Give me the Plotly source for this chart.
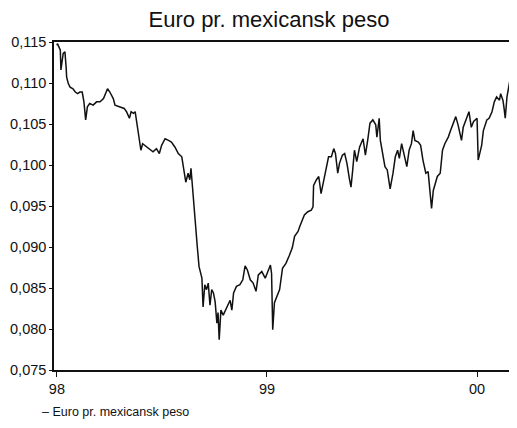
import plotly.graph_objects as go

# Dates and exchange rate values
dates = [
    "1998-01-01", "1998-01-02", "1998-01-07", "1998-01-08", "1998-01-12", "1998-01-15",
    "1998-01-17", "1998-01-18", "1998-01-21", "1998-01-24", "1998-01-29", "1998-02-02",
    "1998-02-06", "1998-02-10", "1998-02-14", "1998-02-17", "1998-02-20", "1998-02-23",
    "1998-02-27", "1998-03-05", "1998-03-11", "1998-03-17", "1998-03-23", "1998-03-27",
    "1998-03-30", "1998-04-03", "1998-04-09", "1998-04-12", "1998-04-21", "1998-04-28",
    "1998-05-02", "1998-05-07", "1998-05-10", "1998-05-14", "1998-05-17", "1998-05-20",
    "1998-05-24", "1998-05-27", "1998-05-30", "1998-06-06", "1998-06-12", "1998-06-17",
    "1998-06-23", "1998-06-28", "1998-07-02", "1998-07-08", "1998-07-14", "1998-07-19",
    "1998-07-25", "1998-07-31", "1998-08-06", "1998-08-10", "1998-08-13", "1998-08-17",
    "1998-08-20", "1998-08-22", "1998-08-24", "1998-08-25", "1998-08-29", "1998-09-02",
    "1998-09-05", "1998-09-08", "1998-09-10", "1998-09-12", "1998-09-15", "1998-09-18",
    "1998-09-21", "1998-09-24", "1998-09-27", "1998-09-30", "1998-10-03", "1998-10-06",
    "1998-10-08", "1998-10-10", "1998-10-13", "1998-10-17", "1998-10-23", "1998-10-29",
    "1998-11-01", "1998-11-04", "1998-11-09", "1998-11-15", "1998-11-20", "1998-11-24",
    "1998-11-28", "1998-12-03", "1998-12-08", "1998-12-13", "1998-12-17", "1998-12-23",
    "1998-12-29", "1999-01-03", "1999-01-07", "1999-01-09", "1999-01-11", "1999-01-14",
    "1999-01-18", "1999-01-23", "1999-01-28", "1999-02-03", "1999-02-09", "1999-02-14",
    "1999-02-18", "1999-02-24", "1999-02-27", "1999-03-03", "1999-03-07", "1999-03-13",
    "1999-03-19", "1999-03-22", "1999-03-23", "1999-03-28", "1999-04-01", "1999-04-05",
    "1999-04-09", "1999-04-14", "1999-04-18", "1999-04-23", "1999-04-27", "1999-04-30",
    "1999-05-04", "1999-05-07", "1999-05-12", "1999-05-16", "1999-05-20", "1999-05-24",
    "1999-05-27", "1999-05-30", "1999-06-02", "1999-06-06", "1999-06-11", "1999-06-17",
    "1999-06-21", "1999-06-25", "1999-06-29", "1999-07-04", "1999-07-09", "1999-07-11",
    "1999-07-15", "1999-07-17", "1999-07-21", "1999-07-25", "1999-07-29", "1999-08-03",
    "1999-08-08", "1999-08-12", "1999-08-16", "1999-08-19", "1999-08-23", "1999-08-27",
    "1999-09-01", "1999-09-05", "1999-09-09", "1999-09-12", "1999-09-15", "1999-09-21",
    "1999-09-25", "1999-09-29", "1999-10-04", "1999-10-08", "1999-10-11", "1999-10-14",
    "1999-10-17", "1999-10-20", "1999-10-24", "1999-10-29", "1999-11-02", "1999-11-06",
    "1999-11-12", "1999-11-16", "1999-11-21", "1999-11-25", "1999-11-29", "1999-12-05",
    "1999-12-08", "1999-12-14", "1999-12-18", "1999-12-22", "1999-12-26", "2000-01-01",
    "2000-01-03", "2000-01-09", "2000-01-12", "2000-01-18", "2000-01-22", "2000-01-27",
    "2000-01-31", "2000-02-04", "2000-02-09", "2000-02-11", "2000-02-15", "2000-02-17",
    "2000-02-19", "2000-02-22", "2000-02-25", "2000-02-27",
]
euro_per_peso = [
    0.1146, 0.1148, 0.1140, 0.1116, 0.1136, 0.1138,
    0.1120, 0.1107, 0.1099, 0.1095, 0.1093, 0.1089,
    0.1087, 0.1089, 0.1089, 0.1077, 0.1055, 0.1071,
    0.1075, 0.1073, 0.1077, 0.1077, 0.1081, 0.1089,
    0.1093, 0.1089, 0.1081, 0.1073, 0.1071, 0.1069,
    0.1065, 0.1057, 0.1065, 0.1063, 0.1065, 0.1049,
    0.1034, 0.1018, 0.1026, 0.1022, 0.1018, 0.1016,
    0.1020, 0.1014, 0.1024, 0.1032, 0.1030, 0.1028,
    0.1022, 0.1014, 0.1010, 0.0994, 0.0979, 0.0990,
    0.0982, 0.0996, 0.0978, 0.0961, 0.0929, 0.0900,
    0.0876, 0.0866, 0.0862, 0.0827, 0.0854, 0.0848,
    0.0856, 0.0829, 0.0848, 0.0844, 0.0833, 0.0807,
    0.0820, 0.0787, 0.0823, 0.0817, 0.0827, 0.0835,
    0.0823, 0.0844, 0.0852, 0.0854, 0.0860, 0.0877,
    0.0872, 0.0860, 0.0856, 0.0846, 0.0866, 0.0870,
    0.0862, 0.0870, 0.0878, 0.0868, 0.0799, 0.0832,
    0.0839, 0.0848, 0.0874, 0.0880, 0.0890, 0.0899,
    0.0913, 0.0919, 0.0925, 0.0933, 0.0939, 0.0943,
    0.0945, 0.0949, 0.0975, 0.0982, 0.0986, 0.0965,
    0.0978, 0.0994, 0.1010, 0.1010, 0.1020, 0.1014,
    0.0990, 0.1002, 0.1012, 0.1014, 0.1002, 0.0984,
    0.0973, 0.0994, 0.1018, 0.1004, 0.1022, 0.1032,
    0.1012, 0.1030, 0.1051, 0.1055, 0.1049, 0.1034,
    0.1057, 0.1030, 0.1014, 0.0998, 0.0994, 0.0971,
    0.0990, 0.1010, 0.1018, 0.1008, 0.1026, 0.1014,
    0.0998, 0.1018, 0.1026, 0.1042, 0.1030, 0.1028,
    0.1024, 0.1006, 0.0990, 0.0992, 0.0973, 0.0947,
    0.0969, 0.0978, 0.0986, 0.0990, 0.1018, 0.1026,
    0.1034, 0.1042, 0.1051, 0.1059, 0.1049, 0.1030,
    0.1046, 0.1059, 0.1065, 0.1046, 0.1053, 0.1057,
    0.1006, 0.1024, 0.1042, 0.1055, 0.1057, 0.1065,
    0.1077, 0.1083, 0.1079, 0.1087, 0.1079, 0.1069,
    0.1057, 0.1083, 0.1099, 0.1103,
]

x_tick_vals = ["1998-01-01", "1999-01-01", "2000-01-01"]
x_tick_text = ["98", "99", "00"]
y_tick_vals = [0.075, 0.080, 0.085, 0.090, 0.095, 0.100, 0.105, 0.110, 0.115]
y_tick_text = ["0,075", "0,080", "0,085", "0,090", "0,095", "0,100", "0,105", "0,110", "0,115"]

title_text = "Euro pr. mexicansk peso"
series_name = "Euro pr. mexicansk peso"

font_family = "Liberation Sans, Arial, sans-serif"

# The page body has an 8 px margin, so the figure is drawn 8 px in from the
# top-left corner of the window; size it to fill the rest of the window.
FIG_W, FIG_H = 509, 420

fig = go.Figure()
fig.add_trace(go.Scatter(
    x=dates, y=euro_per_peso, mode="lines", name=series_name,
    line=dict(color="#111111", width=1.5), showlegend=False,
))

fig.update_layout(
    width=FIG_W, height=FIG_H,
    margin=dict(l=46, r=6, t=34, b=58, autoexpand=False),
    paper_bgcolor="white", plot_bgcolor="white",
    font=dict(family=font_family, color="#111111"),
    title=dict(text=title_text, x=261 / FIG_W, xanchor="center", xref="container",
               y=1 - 11 / FIG_H, yanchor="middle", yref="container",
               font=dict(size=22, family=font_family, color="#111111")),
    xaxis=dict(
        range=["1997-12-27", "2000-02-29"],
        tickvals=x_tick_vals, ticktext=x_tick_text,
        ticks="outside", ticklen=5, tickwidth=1.2, tickcolor="#111111",
        showline=True, linecolor="#111111", linewidth=1.5, mirror=True,
        showgrid=False, zeroline=False, automargin=False,
        tickfont=dict(size=14.5, family=font_family, color="#111111"),
    ),
    yaxis=dict(
        range=[0.075, 0.115],
        tickvals=y_tick_vals, ticktext=y_tick_text,
        ticks="outside", ticklen=3, tickwidth=1.2, tickcolor="#111111",
        showline=True, linecolor="#111111", linewidth=1.5, mirror=True,
        showgrid=False, zeroline=False, automargin=False,
        tickfont=dict(size=14.5, family=font_family, color="#111111"),
    ),
)

fig.add_annotation(
    text="– " + series_name, xref="paper", yref="paper",
    x=-0.031, y=-0.128, xanchor="left", yanchor="middle", showarrow=False,
    font=dict(size=12.5, family=font_family, color="#111111"),
)

fig.write_html("out.html")
